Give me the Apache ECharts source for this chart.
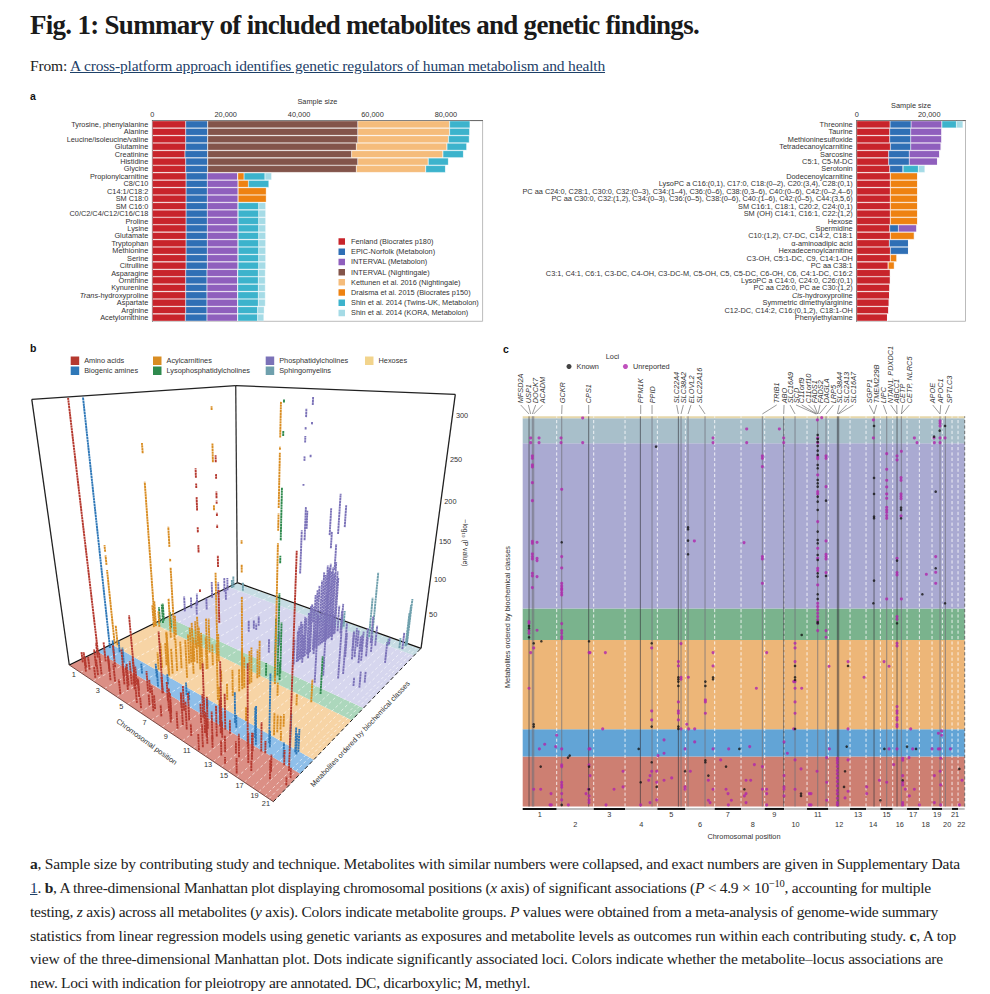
<!DOCTYPE html>
<html><head><meta charset="utf-8">
<script src="https://cdn.jsdelivr.net/npm/echarts@6/dist/echarts.min.js"></script>
<style>
html,body{margin:0;padding:0;background:#fff;width:990px;height:994px;overflow:hidden}
#chart{position:absolute;left:0;top:0;width:990px;height:994px}
.t{position:absolute;white-space:nowrap;font-family:"Liberation Serif",serif;color:#222}
sup{font-size:.68em;line-height:0}
</style></head><body>
<div id="chart"></div>
<div class="t" id="title" data-end="699" style="left:30px;top:10px;font-size:27px;font-weight:bold;color:#1a1a1a">Fig. 1: Summary of included metabolites and genetic findings.</div>
<div class="t" id="from" data-end="605" style="left:30px;top:57px;font-size:15.5px">From: <span style="color:#1d4068;text-decoration:underline">A cross-platform approach identifies genetic regulators of human metabolism and health</span></div>
<div id="caption"></div>
<script>
// ---------- panel a ----------
const studyNames=['Fenland (Biocrates p180)','EPIC-Norfolk (Metabolon)','INTERVAL (Metabolon)','INTERVAL (Nightingale)','Kettunen et al. 2016 (Nightingale)','Draisma et al. 2015 (Biocrates p150)','Shin et al. 2014 (Twins-UK, Metabolon)','Shin et al. 2014 (KORA, Metabolon)'];
const leftMetabolites=['Tyrosine, phenylalanine','Alanine','Leucine/isoleucine/valine','Glutamine','Creatinine','Histidine','Glycine','Propionylcarnitine','C8/C10','C14:1/C18:2','SM C18:0','SM C16:0','C0/C2/C4/C12/C16/C18','Proline','Lysine','Glutamate','Tryptophan','Methionine','Serine','Citrulline','Asparagine','Ornithine','Kynurenine','{i|Trans}-hydroxyproline','Aspartate','Arginine','Acetylornithine'];
const leftFenland=[9100,9100,9100,9100,8900,9100,9100,9200,9200,9200,9200,9200,9200,9200,9200,9200,9200,9200,9200,9200,9100,9100,9100,9100,9100,9100,9000];
const leftEpic=[6000,6000,6000,6000,6200,6000,6000,5800,5800,5800,5800,5800,5800,5800,5800,5800,5800,5800,5800,5800,5800,5800,5800,5800,5800,5800,5900];
const leftIntervalMet=[0,0,0,0,0,0,0,8300,8400,8400,8400,8400,8400,8400,8400,8400,8400,8400,8400,8400,8400,8400,8400,8400,8400,8400,8400];
const leftIntervalNmr=[40900,40900,40900,40500,39200,40900,40500,0,0,0,0,0,0,0,0,0,0,0,0,0,0,0,0,0,0,0,0];
const leftKettunen=[25000,25000,24700,24700,24900,19200,18900,0,0,0,0,0,0,0,0,0,0,0,0,0,0,0,0,0,0,0,0];
const leftDraisma=[0,0,0,0,0,0,0,1700,2800,7700,7700,0,0,0,0,0,0,0,0,0,0,0,0,0,0,0,0];
const leftTwins=[5600,5500,5700,5400,5600,5500,5400,5700,5600,0,0,5600,5600,5600,5600,5600,5600,5600,5600,5600,5600,5600,5600,5600,5600,5400,5400];
const leftKora=[0,0,0,0,0,0,0,1800,0,0,0,1900,1900,1900,1900,1900,1900,1900,1900,1900,1900,1900,1900,1900,1900,1800,1700];
const rightMetabolites=['Threonine','Taurine','Methioninesulfoxide','Tetradecanoylcarnitine','Sarcosine','C5:1, C5-M-DC','Serotonin','Dodecenoylcarnitine','LysoPC a C16:(0,1), C17:0, C18:(0–2), C20:(3,4), C28:(0,1)','PC aa C24:0, C28:1, C30:0, C32:(0–3), C34:(1–4), C36:(0–6), C38:(0,3–6), C40:(0–6), C42:(0–2,4–6)','PC aa C30:0, C32:(1,2), C34:(0–3), C36:(0–5), C38:(0–6), C40:(1–6), C42:(0–5), C44:(3,5,6)','SM C16:1, C18:1, C20:2, C24:(0,1)','SM (OH) C14:1, C16:1, C22:(1,2)','Hexose','Spermidine','C10:(1,2), C7-DC, C14:2, C18:1','α-aminoadipic acid','Hexadecenoylcarnitine','C3-OH, C5:1-DC, C9, C14:1-OH','PC aa C38:1','C3:1, C4:1, C6:1, C3-DC, C4-OH, C3-DC-M, C5-OH, C5, C5-DC, C6-OH, C6, C4:1-DC, C16:2','LysoPC a C14:0, C24:0, C26:(0,1)','PC aa C26:0, PC ae C30:(1,2)','{i|Cis}-hydroxyproline','Symmetric dimethylarginine','C12-DC, C14:2, C16:(0,1,2), C18:1-OH','Phenylethylamine'];
const rightFenland=[9200,9100,9100,9300,8800,8800,9100,9300,9300,9300,9300,9300,9300,9300,9100,9300,9000,9300,9300,8700,9300,9300,9200,9100,9000,8900,8500];
const rightEpic=[5800,5800,5800,5600,5700,5700,3700,0,0,0,0,0,0,0,2400,0,5300,5000,0,0,0,0,0,0,0,0,0];
const rightIntervalMet=[8500,8600,8600,8400,8400,7800,0,0,0,0,0,0,0,0,5100,0,0,0,0,0,0,0,0,0,0,0,0];
const rightDraisma=[0,0,0,0,0,0,0,7500,7500,7500,7500,7500,7500,7500,0,6600,0,0,1800,1700,0,0,0,0,0,0,0];
const rightTwins=[4000,0,0,0,0,0,4200,0,0,0,0,0,0,0,0,0,0,0,0,0,0,0,0,0,0,0,0];
const rightKora=[1800,0,0,0,0,0,1800,0,0,0,0,0,0,0,0,0,0,0,0,0,0,0,0,0,0,0,0];

// ---------- panels b and c share one genome / metabolite scale ----------
const classNames=['Amino acids','Biogenic amines','Acylcarnitines','Lysophosphatidylcholines','Phosphatidylcholines','Sphingomyelins','Hexoses'];
const classEdges=[0,150,232,500,594,1090,1165,1171];
const chromEnds=[170,281,375,472,556,644,723,794,852,921,985,1050,1098,1141,1178,1221,1258,1296,1327,1356,1374,1394];
const chromLabels=['1','2','3','4','5','6','7','8','9','10','11','12','13','14','15','16','17','18','19','20','21','22'];
const darkLoci=[87,266,421,535,851,1012,1016,1122,1191];
const greyLoci=[97,101,185,456,543,564,615,787,885,953,978,1160,1204,1320,1336];
const geneNames=['MFSD2A','USP1','DOCK7','ACADM','GCKR','CPS1','PPM1K','PPID','SLC22A4','SLC38A2','ELOVL2','SLC22A16','TRIB1','ABO','SLC16A9','SCD','C11orf9','C11orf10','FADS1','FADS2','DAGLA','LRP5','SLC38A4','SLC2A13','SLC16A7','SGPP1','TMEM229B','LIPC','NTAN1, PDXDC1','ABCC1','CETP','CETP, NLRC5','APOE','APOC1','SPTLC3'];
const geneLabelPos=[62,85,107,128,186,266,422,456,530,550,573,597,830,852,870,888,905,925,942,960,980,1000,1018,1040,1060,1108,1130,1150,1172,1190,1208,1228,1298,1322,1348];
const geneLocusPos=[87,92,97,101,185,266,422,456,535,543,564,615,787,851,885,948,950,952,953,954,958,978,1012,1014,1016,1122,1122,1160,1191,1191,1204,1204,1320,1320,1336];

const unreportedLoci=[
[248,1166],[965,1167],[952,1160],[1120,1160],[1320,1157],[1320,1150],[1320,1142],[740,1133],[838,1133],[92,1106],[117,1106],[183,1106],[639,1106],[851,1106],[953,1106],[1120,1106],[1243,1106],[1302,1106],[1320,1106],[1335,1106],[92,1092],[117,1092],[183,1092],[248,1092],[639,1092],[740,1092],[851,1092],[953,1092],[1251,1092],[1303,1092],[1320,1092],
[97,1052],[97,1045],[97,1025],[97,1019],[97,972],[97,918],[787,1052],[787,1045],[787,1020],[978,1052],[978,1045],[1160,1059],[1191,1052],[1191,1040],[1204,1066],[1160,1012],[1160,979],[1160,959],[1160,938],[1160,925],[1160,898],[1160,890],[1160,883],[1160,873],[1160,865],[1203,987],[1203,979],[1203,938],[1203,931],[1203,924],[1203,872],[185,952],[978,960],
[97,796],[97,790],[111,793],[583,797],[732,792],[978,797],[97,758],[97,750],[97,743],[111,745],[111,738],[185,750],[787,750],[787,743],[978,757],[978,750],[978,743],[1191,745],[1307,750],[185,716],[97,700],[97,692],[111,690],[978,702],[1191,702],[1191,695],[1279,697],[1307,703],[1307,670],[97,657],[185,670],[185,662],[185,655],[787,670],
[953,1050],[953,1044],[953,995],[953,945],[953,938],[953,855],[953,775],[953,745],[953,715],[953,708],[953,665],
[185,650],[185,642],[185,635],[1160,623],[1204,623],
[87,555],[87,550],[87,528],[87,520],[111,529],[185,549],[185,528],[185,520],[185,510],[185,504],[953,610],[953,600],[953,590],[953,580],[953,570],[953,560],[953,550],[953,528],[978,528],[978,508],[1191,570],[1191,562],
[92,462],[101,476],[267,462],[270,462],[316,462],[455,476],[543,489],[639,462],[800,462],[885,490],[885,476],[1191,490],[1191,482],[535,435],[535,422],[1044,435],[1152,435],[1167,421],[639,422],[885,435],[987,421],[1092,388],[565,388],[543,388],[543,382],[885,375],[881,375],[87,355],[769,355],[885,355],[905,355],[535,314],[616,320],[616,314],[885,314],[616,280],[885,280],[455,287],[535,287],[535,280],[1191,300],[1191,287],[1191,280],[1191,267],[1191,260],[1191,246],[455,260],[535,260],[560,247],[308,233],[543,233],[566,233],[584,233],[881,233],[1044,233],[1232,233],[1191,240],
[170,214],[1315,220],[1325,227],[1325,214],[134,187],[118,173],[167,180],[185,173],[267,173],[270,173],[492,200],[584,194],[555,173],[639,173],[686,173],[749,180],[852,194],[862,160],[988,173],[1167,173],[1191,173],[1238,173],[1296,173],[1315,173],[1320,173],[1351,173],[492,160],[474,153],
[185,125],[185,120],[267,125],[270,93],[369,106],[455,106],[450,93],[470,106],[446,79],[470,73],[492,79],[515,86],[571,106],[662,140],[625,79],[763,126],[787,120],[852,93],[903,113],[885,140],[951,106],[980,147],[980,73],[1044,140],[1138,79],[1160,73],[1181,126],[1208,145],[1208,139],[1208,93],[1208,73],[1208,65],[1227,147],[1303,93],[1320,106],[1322,65],[1322,145],[1386,79],
[1012,145],[1012,138],[1012,130],[1012,120],[1012,108],[1012,98],[1012,86],[1012,75],[1012,62],[1012,48],[1012,38],[1012,25],[1012,12],[1012,5],
[101,52],[122,52],[153,39],[185,73],[185,65],[185,58],[185,39],[185,20],[258,39],[265,52],[267,32],[267,20],[267,12],[342,52],[369,59],[555,59],[555,52],[639,52],[678,52],[684,39],[694,19],[625,19],[630,12],[738,79],[752,79],[738,39],[733,32],[738,12],[787,52],[800,52],[800,39],[852,59],[852,52],[852,32],[885,52],[928,39],[933,39],[1100,59],[1100,39],[1044,46],[1035,26],[1216,52],[1243,52],[1228,32],[1208,12],[1208,5],[1303,12],[1322,5],[1378,5],[150,5],[154,5],[205,5],[318,5],[422,5],[450,12],[470,20],[685,5],[800,5],[928,5],[933,5],[980,19],[1258,5]];
const knownLoci=[
[1122,1142],[1335,1142],[1319,1128],[1302,1110],[468,1080],[953,1115],[953,1103],[953,1094],[953,1082],[953,1068],
[953,1055],[953,1025],[953,1015],[953,980],[953,970],[953,960],[953,930],[953,915],[953,890],[953,825],[953,800],[953,790],[953,755],[953,740],[953,700],[953,690],
[1122,986],[1122,938],[1307,945],[978,918],[1122,870],[1122,865],[1203,897],[1203,890],[1203,865],[564,838],[564,832],[185,793],[564,798],[564,757],[1191,738],[1307,715],[978,692],[1122,678],
[1120,610],[1267,637],[1335,610],
[87,542],[87,535],[87,508],[905,515],[953,637],[953,623],[953,554],[953,550],[1191,550],
[101,490],[124,496],[267,496],[455,490],[1044,422],[885,422],[535,388],[535,382],[535,375],[616,375],[535,362],[616,362],[639,388],[639,382],[885,388],[885,380],[101,247],[101,240],[455,240],[535,240],[535,233],[885,233],
[416,173],[718,173],[1040,180],[1153,173],[1221,180],[1248,173],[209,153],[204,147],
[122,120],[267,120],[455,133],[616,139],[616,133],[555,106],[678,120],[625,93],[1035,106],[1378,113],[1208,79],[422,73],[470,59],[267,52],[733,52],[903,39],[903,32],[1032,59],[1141,19],[185,5]];

// panel b: [chromosomal position, metabolite row, lower and upper -log10(P) of a run of points]
const aminoStems=[[85,144,0,322],[960,83,0,84],[960,83,160,163],[960,83,199,206],[960,83,218,223],[960,83,238,250],[960,83,258,262],[960,83,267,275],
[1014,123,0,86],[1014,123,128,162],[1014,123,185,196],[1014,123,222,225],[1014,123,233,236],[1014,123,244,247],[1014,123,249,255],[1014,123,266,270],[1014,123,280,286],
[1353,135,0,220],[1150,131,0,97],[618,139,0,81],[581,29,0,110],
[101,52,0,15],[122,120,0,22],[122,52,0,17],[153,39,0,14],[185,125,0,28],[185,73,0,25],[185,39,0,18],[185,20,0,12],[258,39,0,22],[267,125,0,32],[267,52,0,32],[267,20,0,15],[270,93,0,20],[342,52,0,35],[369,106,0,38],[369,59,0,25],[422,73,0,28],[446,79,0,30],[455,106,0,35],[450,93,0,32],[470,106,0,25],[470,59,0,32],[470,20,0,20],[492,79,0,20],[515,86,0,15],[555,106,0,28],[555,59,0,25],[571,106,0,18],[616,139,0,22],[625,79,0,20],[625,19,0,14],[639,52,0,15],[662,140,0,12],[678,120,0,25],[678,52,0,18],[684,39,0,15],[738,79,0,22],[752,79,0,25],[738,39,0,15],[763,126,0,20],[787,120,0,32],[787,52,0,25],[800,39,0,22],[852,93,0,35],[852,59,0,40],[852,32,0,22],[885,140,0,30],[885,52,0,35],[903,113,0,25],[928,39,0,15],[951,106,0,40],[980,147,0,28],[980,73,0,30],[1012,145,0,45],[1012,120,0,42],[1012,98,0,38],[1012,75,0,35],[1012,48,0,30],[1012,25,0,28],[1012,5,0,20],[1044,140,0,18],[1044,46,0,15],[1035,106,0,20],[1100,59,0,20],[1100,39,0,18],[1138,79,0,15],[1160,73,0,28],[1181,126,0,22],[1208,145,0,35],[1208,93,0,32],[1208,73,0,36],[1208,12,0,18],[1227,147,0,15],[1243,52,0,12],[1303,93,0,20],[1322,145,0,18],[1322,65,0,22],[1378,113,0,12],[1386,79,0,10],[1141,19,0,8]];
const biogenicStems=[[93,207,0,322],[1204,196,0,82],[1141,183,0,38],[1168,158,0,47],[1016,197,0,39],[714,195,0,17],[561,156,0,24],[1288,222,0,42],[1296,173,0,18],[416,173,0,14],[492,200,0,18],[584,194,0,14],[852,194,0,12],[749,180,0,12],[1040,180,0,16],[1221,180,0,20],[1315,220,0,30],[1325,227,0,28],[1325,214,0,25],[170,214,0,18],[185,173,0,25],[267,173,0,22]];
const acylStems=[[86,494,0,211],[86,494,248,261],[75,246,0,108],[75,246,115,128],[75,246,133,142],[303,459,0,107],[303,459,116,120],[303,459,136,163],
[598,492,0,117],[598,492,196,202],[598,492,252,273],[598,492,309,313],[980,492,0,177],[980,492,191,210],[980,492,216,273],[980,492,276,279],[980,492,288,322],[869,391,0,116],[869,391,145,154],[869,391,178,182],[852,255,0,73],[524,246,0,59],
[535,435,0,30],[535,388,0,55],[535,375,0,50],[535,362,0,42],[535,314,0,38],[535,287,0,45],[535,260,0,35],[535,240,0,60],[455,490,0,45],[455,476,0,40],[455,287,0,32],[455,260,0,35],[455,240,0,25],[101,490,0,40],[101,476,0,35],[101,247,0,30],[124,496,0,25],[267,496,0,30],[267,462,0,60],[616,375,0,50],[616,362,0,60],[616,320,0,38],[616,280,0,52],[639,462,0,40],[639,422,0,30],[639,388,0,70],[639,382,0,45],[885,490,0,50],[885,476,0,40],[885,435,0,48],[885,422,0,45],[885,388,0,42],[885,375,0,48],[885,355,0,30],[885,314,0,35],[885,280,0,22],[885,233,0,25],[1191,490,0,30],[1191,300,0,16],[1191,280,0,18],[1191,260,0,22],[1191,240,0,28],[1044,435,0,18],[1044,233,0,18],[1232,233,0,12],[1152,435,0,15],[543,489,0,50],[543,388,0,35],[769,355,0,16],[800,462,0,35],[565,388,0,30]];
const lysoStems=[[947,550,0,110],[947,550,147,156],[947,550,174,233],[947,550,287,292],[947,550,320,323],[947,530,0,80],[947,570,0,70],[105,535,0,30],[87,555,0,28],[87,528,0,25],[185,528,0,25],[1191,560,0,50],[978,528,0,25],[905,515,0,18]];
const pcStems=[[975,703,260,263],[975,703,295,298],[975,703,315,323],[943,703,302,311],[943,703,289,292],[943,703,275,282],[943,703,255,260],[943,703,227,229],
[953,1054,0,40],[953,1054,154,184],[953,1025,0,85],[953,1015,0,95],[953,995,0,110],[953,995,149,202],[953,984,0,95],[953,984,100,136],[953,970,0,105],[953,960,0,100],[953,945,0,112],[953,937,0,108],[953,937,134,156],[953,930,0,105],[953,919,0,112],[953,919,153,188],[953,905,0,100],[953,890,0,105],[953,875,0,95],[953,855,0,90],[953,840,0,85],[953,825,0,80],[953,800,0,70],[953,790,0,68],[953,775,0,60],[953,755,0,55],[953,745,0,58],[953,726,0,50],[953,726,175,197],[953,714,0,55],[953,714,162,202],[953,700,0,50],[953,690,0,45],[953,690,122,176],[953,665,0,35],
[978,1052,0,45],[978,1045,0,35],[978,960,0,40],[978,797,0,35],[978,750,0,30],[978,702,0,40],[97,1052,0,22],[97,1025,0,25],[97,972,0,22],[97,918,0,28],[97,796,0,20],[97,750,0,18],[97,700,0,25],[185,952,0,18],[185,793,0,20],[185,716,0,22],[564,838,0,15],[564,798,0,14],[564,757,0,18],[787,1052,0,25],[787,1020,0,18],[787,750,0,22],[787,670,0,20],[1122,986,0,25],[1122,938,0,30],[1122,870,0,35],[1122,678,0,60],[1122,610,0,90],[1160,1059,0,40],[1160,1012,0,28],[1160,959,0,25],[1160,898,0,42],[1160,873,0,38],[1191,1052,0,30],[1191,745,0,70],[1191,702,0,65],[1203,987,0,25],[1203,938,0,28],[1203,890,0,42],[1203,865,0,38],[1307,945,0,30],[1307,750,0,15],[1307,703,0,22],[1279,697,0,12],[1320,1106,0,25],[1243,1106,0,10],[583,797,0,10]];
const smStems=[[1122,1142,0,93],[1122,1106,0,60],[1320,1157,0,68],[1320,1150,0,60],[1320,1142,0,50],[97,1106,0,20],[97,1092,0,15],[183,1106,0,15],[953,1115,0,25],[953,1094,0,22],[1243,1092,0,10],[1303,1106,0,15]];
const zTicks=[50,100,150,200,250,300];
const captionLines=[
['<b>a</b>, Sample size by contributing study and technique. Metabolites with similar numbers were collapsed, and exact numbers are given in Supplementary Data',960,864],
['<span style="color:#1d4068;text-decoration:underline">1</span>. <b>b</b>, A three-dimensional Manhattan plot displaying chromosomal positions (<i>x</i> axis) of significant associations (<i>P</i> &lt; 4.9 × 10<sup>−10</sup>, accounting for multiple',931,888],
['testing, <i>z</i> axis) across all metabolites (<i>y</i> axis). Colors indicate metabolite groups. <i>P</i> values were obtained from a meta-analysis of genome-wide summary',938,912],
['statistics from linear regression models using genetic variants as exposures and metabolite levels as outcomes run within each contributing study. <b>c</b>, A top',956,936],
['view of the three-dimensional Manhattan plot. Dots indicate significantly associated loci. Colors indicate whether the metabolite–locus associations are',943,959],
['new. Loci with indication for pleiotropy are annotated. DC, dicarboxylic; M, methyl.',530,983]];

// ---------- text above and below the figure ----------
const capBox=document.getElementById('caption');
captionLines.forEach(([html,end,mid])=>{const d=document.createElement('div');d.className='t';d.innerHTML=html;d.dataset.end=end;d.style.cssText=`left:30px;top:${mid-9}px;font-size:15.5px;line-height:18px`;capBox.appendChild(d);});
document.querySelectorAll('.t').forEach(el=>{const n=el.textContent.length;const w=el.getBoundingClientRect().width;el.style.letterSpacing=((+el.dataset.end-30-w)/n).toFixed(3)+'px';});

// ---------- shared styling ----------
const SANS='"Liberation Sans",Arial,sans-serif', INK='#333', FS=7.35;
const studyColors=['#c8242b','#2f6fb5','#8f5fbd','#83544a','#f5bc7b','#ee8211','#3cb3cc','#a5dbe6'];
const classColors=['#b5392f','#2f78b8','#d98d22','#2f8a4e','#7b72b8','#6fa0ad','#f2d48c'];
const bandColorsC=['#cd7f72','#62a4d6','#edb678','#7ab38d','#aaaad2','#a8bfca','#e6d7aa'];
const bandColorsFloor=['#db8f85','#8fbfe9','#f7d4a5','#acd7bc','#d6d6ee','#c6dce3','#f4e6c0'];

// ---------- projection of panel b (floor homography plus a perspective height) ----------
const FLOOR={a:119.4,b:253.3,c:69.3,d:-111.6,e:127.2,f:665,g:-0.3097,h:0.3595,k:0.000538,vx:248,vy:1930};
const POS0=68,POS1=1394,ROW1=1171;
function project(pos,row,z){
  const u=(pos-POS0)/(POS1-POS0),v=row/ROW1,F=FLOOR;
  const w=F.g*u+F.h*v+1,fx=(F.a*u+F.b*v+F.c)/w,fy=(F.d*u+F.e*v+F.f)/w,s=w/(w-F.k*z);
  return [F.vx+(fx-F.vx)*s,F.vy+(fy-F.vy)*s];
}
const SCENE={xAxisIndex:2,yAxisIndex:2,coordinateSystem:'cartesian2d',type:'custom',clip:false,silent:true};
function stemSeries(name,color,data){
  return {...SCENE,name,itemStyle:{color},data,
    renderItem(p,api){
      const a=api.coord(project(api.value(0),api.value(1),api.value(2))),b=api.coord(project(api.value(0),api.value(1),api.value(3)));
      return {type:'line',shape:{x1:a[0],y1:a[1],x2:b[0],y2:b[1]},style:{stroke:color,lineWidth:1.9,lineDash:[2.4,0.4]}};
    }};
}
const frameLines=[[POS0,0,0,POS0,ROW1,0,1.3,'#111'],[POS0,ROW1,0,POS1,ROW1,0,1.3,'#111'],[POS0,0,0,POS0,0,322.6,1.3,'#222'],[POS0,ROW1,0,POS0,ROW1,322.6,1.3,'#333'],[POS1,ROW1,0,POS1,ROW1,322.6,1.3,'#222'],[POS0,0,322.6,POS0,ROW1,322.6,1.3,'#222'],[POS0,ROW1,322.6,POS1,ROW1,322.6,1.3,'#222'],[POS0,0,0,POS1,0,0,0.9,'#6b3a34']];

// ---------- bars ----------
function barSeries(name,values,color,stack,gi){
  return {type:'bar',name,stack,data:values,xAxisIndex:gi,yAxisIndex:gi,barCategoryGap:'5%',itemStyle:{color,borderColor:'#fff',borderWidth:0.3},silent:true};
}
const yLabel=m=>({type:'category',gridIndex:m.g,inverse:true,data:m.d,axisLine:{lineStyle:{color:'#555',width:0.8}},axisTick:{length:1.5,alignWithLabel:true,lineStyle:{color:'#555',width:0.6}},
  axisLabel:{interval:0,fontSize:FS,color:INK,fontFamily:SANS,margin:4,hideOverlap:false,rich:{i:{fontStyle:'italic',fontSize:FS,color:INK,fontFamily:SANS}}}});
const xBar=(g,max,gap)=>({type:'value',gridIndex:g,position:'top',min:0,max,interval:10000,splitLine:{show:false},
  axisLine:{show:true,lineStyle:{color:'#555',width:0.8}},axisTick:{length:2.5,lineStyle:{color:'#555',width:0.6}},
  axisLabel:{fontSize:FS,color:INK,fontFamily:SANS,margin:3,formatter:v=>v%20000?'':v.toLocaleString('en-US')},
  name:'Sample size',nameLocation:'middle',nameGap:gap,nameTextStyle:{fontSize:FS,color:INK,fontFamily:SANS}});

const stackSeriesL=[leftFenland,leftEpic,leftIntervalMet,leftIntervalNmr,leftKettunen,leftDraisma,leftTwins,leftKora].map((d,i)=>barSeries(studyNames[i],d,studyColors[i],'L',0));
const rightIdx=[0,1,2,5,6,7];
const stackSeriesR=[rightFenland,rightEpic,rightIntervalMet,rightDraisma,rightTwins,rightKora].map((d,i)=>barSeries(studyNames[rightIdx[i]],d,studyColors[rightIdx[i]],'R',1));

// ---------- panel b series ----------
const floorBands={...SCENE,data:classEdges.slice(1).map((hi,i)=>[classEdges[i],hi,i]),renderItem(p,api){
  const lo=api.value(0),hi=api.value(1),i=api.value(2);
  const pts=[[POS0,lo],[POS1,lo],[POS1,hi],[POS0,hi]].map(q=>api.coord(project(q[0],q[1],0)));
  return {type:'polygon',shape:{points:pts},style:{fill:bandColorsFloor[i]}};
}};
const floorDashes={...SCENE,data:chromEnds.slice(0,-1).map(e=>[e]),renderItem(p,api){
  const a=api.coord(project(api.value(0),0,0)),b=api.coord(project(api.value(0),ROW1,0));
  return {type:'line',shape:{x1:a[0],y1:a[1],x2:b[0],y2:b[1]},style:{stroke:'#fff',lineWidth:0.7,lineDash:[3,2.5],opacity:.85}};
}};
const frame={...SCENE,data:frameLines.map((l,i)=>[i]),renderItem(p,api){
  const l=frameLines[api.value(0)],a=api.coord(project(l[0],l[1],l[2])),b=api.coord(project(l[3],l[4],l[5]));
  return {type:'line',shape:{x1:a[0],y1:a[1],x2:b[0],y2:b[1]},style:{stroke:l[7],lineWidth:l[6]}};
}};
const frontDash={...SCENE,data:[[0]],renderItem(p,api){
  const a=api.coord(project(POS1,0,0)),b=api.coord(project(POS1,ROW1,0));
  return {type:'line',shape:{x1:a[0],y1:a[1],x2:b[0],y2:b[1]},style:{stroke:'#222',lineWidth:1,lineDash:[4,2.5]}};
}};
const zTickLabels={...SCENE,data:zTicks.map(z=>[z]),renderItem(p,api){
  const a=api.coord(project(POS1,ROW1,api.value(0)));
  return {type:'text',style:{text:String(api.value(0)),x:a[0]+3.5,y:a[1],fill:INK,fontSize:FS,fontFamily:SANS,align:'left',verticalAlign:'middle'}};
}};
const chromTicksB={...SCENE,data:chromLabels.map((c,i)=>[i]).filter(d=>d[0]%2===0),renderItem(p,api){
  const i=api.value(0),mid=((i?chromEnds[i-1]:POS0)+chromEnds[i])/2,a=api.coord(project(mid,0,0));
  return {type:'text',style:{text:chromLabels[i],x:a[0]-1,y:a[1]+6,fill:INK,fontSize:FS,fontFamily:SANS,align:'center',verticalAlign:'middle'}};
}};
const bSeries=[floorBands,floorDashes,frame,
 stemSeries(classNames[6],classColors[6],[]),
 stemSeries(classNames[5],classColors[5],smStems),
 stemSeries(classNames[4],classColors[4],pcStems),
 stemSeries(classNames[3],classColors[3],lysoStems),
 stemSeries(classNames[2],classColors[2],acylStems),
 stemSeries(classNames[1],classColors[1],biogenicStems),
 stemSeries(classNames[0],classColors[0],aminoStems),
 frontDash,zTickLabels,chromTicksB];

// ---------- panel c series ----------
const C={xAxisIndex:3,yAxisIndex:3,coordinateSystem:'cartesian2d',silent:true};
const cCustom={...C,type:'custom',clip:false};
const cBands={...cCustom,data:classEdges.slice(1).map((hi,i)=>[classEdges[i],hi,i]),renderItem(p,api){
  const a=api.coord([POS0,api.value(1)]),b=api.coord([POS1,api.value(0)]);
  return {type:'rect',shape:{x:a[0],y:a[1],width:b[0]-a[0],height:b[1]-a[1]},style:{fill:bandColorsC[api.value(2)]}};
}};
const cDash={...cCustom,data:chromEnds.map((e,i)=>[e,i]),renderItem(p,api){
  const a=api.coord([api.value(0),0]),b=api.coord([api.value(0),ROW1]),last=api.value(1)===chromEnds.length-1;
  return {type:'line',shape:{x1:a[0],y1:a[1],x2:b[0],y2:b[1]},style:{stroke:last?'#555':'#fff',lineWidth:0.9,lineDash:[3.2,2.2],opacity:.9}};
}};
const vLoci=(arr,stroke,w,o)=>({...cCustom,data:arr.map(e=>[e]),renderItem(p,api){
  const a=api.coord([api.value(0),0]),b=api.coord([api.value(0),ROW1]);
  return {type:'line',shape:{x1:a[0],y1:a[1],x2:b[0],y2:b[1]},style:{stroke,lineWidth:w,opacity:o}};
}});
const geneText={...cCustom,data:geneNames.map((g,i)=>[i]),renderItem(p,api){
  const i=api.value(0),a=api.coord([geneLabelPos[i],1210]),b=api.coord([geneLabelPos[i],1205]),c=api.coord([geneLocusPos[i],1178]);
  return {type:'group',children:[
    {type:'text',x:a[0],y:a[1],rotation:Math.PI/2,style:{text:geneNames[i],x:0,y:0,fill:INK,fontSize:FS,fontStyle:'italic',fontFamily:SANS,align:'left',verticalAlign:'middle'}},
    {type:'line',shape:{x1:b[0],y1:b[1],x2:c[0],y2:c[1]},style:{stroke:'#555',lineWidth:0.6}}]};
}};
const chromBars={...cCustom,data:chromEnds.map((e,i)=>[e,i]),renderItem(p,api){
  const i=api.value(1),a=api.coord([i?chromEnds[i-1]:POS0,-4]),b=api.coord([api.value(0),-10]);
  return {type:'rect',shape:{x:a[0],y:a[1],width:b[0]-a[0],height:b[1]-a[1]},style:{fill:i%2?'#bdbdbd':'#111'}};
}};
const chromTicksC={...cCustom,data:chromLabels.map((c,i)=>[i]),renderItem(p,api){
  const i=api.value(0),mid=((i?chromEnds[i-1]:POS0)+chromEnds[i])/2,a=api.coord([mid,0]);
  return {type:'text',style:{text:chromLabels[i],x:a[0],y:a[1]+(i%2?17.6:7.6),fill:INK,fontSize:FS,fontFamily:SANS,align:'center',verticalAlign:'middle'}};
}};
const cSeries=[cBands,cDash,vLoci(greyLoci,'#6e6e78',1.1,.65),vLoci(darkLoci,'#33333a',0.7,.9),
 {...C,type:'scatter',name:'Unreported',data:unreportedLoci,symbolSize:3.1,itemStyle:{color:'#b026ad'},z:5},
 {...C,type:'scatter',name:'Known',data:knownLoci,symbolSize:2.6,itemStyle:{color:'#141414'},z:6},
 geneText,chromBars,chromTicksC];

// ---------- legends ----------
const legendBase={selectedMode:false,icon:'rect',itemWidth:8.5,itemHeight:8.5,textStyle:{fontSize:FS,color:INK,fontFamily:SANS,lineHeight:8},padding:0};
const classLegend=(left,top,names)=>({...legendBase,orient:'vertical',left,top,data:names,itemGap:1.5});

const chart=echarts.init(document.getElementById('chart'),null,{renderer:'svg',width:990,height:994});
chart.setOption({
  animation:false,backgroundColor:'#fff',
  grid:[
    {left:152.3,top:120.7,width:330.3,height:200.6,show:true,borderColor:'#aaa',borderWidth:0.8,backgroundColor:'#fff'},
    {left:856.7,top:120.7,width:108.8,height:200.6,show:true,borderColor:'#aaa',borderWidth:0.8,backgroundColor:'#fff'},
    {left:0,top:0,width:990,height:994},
    {left:522.7,top:416.3,width:442,height:390.3}],
  xAxis:[xBar(0,90000,16),xBar(1,30000,12),
    {type:'value',gridIndex:2,min:0,max:990,show:false},
    {type:'value',gridIndex:3,min:POS0,max:POS1,show:false}],
  yAxis:[yLabel({g:0,d:leftMetabolites}),yLabel({g:1,d:rightMetabolites}),
    {type:'value',gridIndex:2,min:0,max:994,inverse:true,show:false},
    {type:'value',gridIndex:3,min:0,max:ROW1,show:false}],
  legend:[
    {...legendBase,orient:'vertical',left:336.5,top:236.3,data:studyNames,itemGap:-0.3},
    classLegend(70.7,356.5,classNames.slice(0,2)),
    classLegend(153,356.5,classNames.slice(2,4)),
    classLegend(265.7,356.5,classNames.slice(4,6)),
    classLegend(365,356.5,classNames.slice(6)),
    {...legendBase,icon:'circle',itemWidth:5,itemHeight:5,orient:'horizontal',left:566.5,top:362.5,data:['Known','Unreported'],itemGap:24}],
  graphic:[
    {type:'text',x:30,y:90,style:{text:'a',fontSize:10.5,fontWeight:'bold',fill:'#111',fontFamily:SANS}},
    {type:'text',x:30,y:342,style:{text:'b',fontSize:10.5,fontWeight:'bold',fill:'#111',fontFamily:SANS}},
    {type:'text',x:503,y:343,style:{text:'c',fontSize:10.5,fontWeight:'bold',fill:'#111',fontFamily:SANS}},
    {type:'text',x:612.5,y:356,style:{text:'Loci',fontSize:FS,fill:INK,fontFamily:SANS,align:'center',verticalAlign:'middle'}},
    {type:'text',x:507,y:617,rotation:Math.PI/2,style:{text:'Metabolites ordered by biochemical classes',fontSize:FS,fill:INK,fontFamily:SANS,align:'center',verticalAlign:'middle'}},
    {type:'text',x:744,y:836,style:{text:'Chromosomal position',fontSize:FS,fill:INK,fontFamily:SANS,align:'center',verticalAlign:'middle'}},
    {type:'text',x:146.7,y:741.7,rotation:-36*Math.PI/180,style:{text:'Chromosomal position',fontSize:FS,fill:INK,fontFamily:SANS,align:'center',verticalAlign:'middle'}},
    {type:'text',x:360,y:734,rotation:47*Math.PI/180,style:{text:'Metabolites ordered by biochemical classes',fontSize:FS,fill:INK,fontFamily:SANS,align:'center',verticalAlign:'middle'}},
    {type:'text',x:465,y:543,rotation:-Math.PI/2,style:{text:'−log₁₀ (P value)',fontSize:6.8,fill:INK,fontFamily:SANS,align:'center',verticalAlign:'middle'}}],
  series:[...stackSeriesL,...stackSeriesR,...bSeries,...cSeries]
});
</script></body></html>
